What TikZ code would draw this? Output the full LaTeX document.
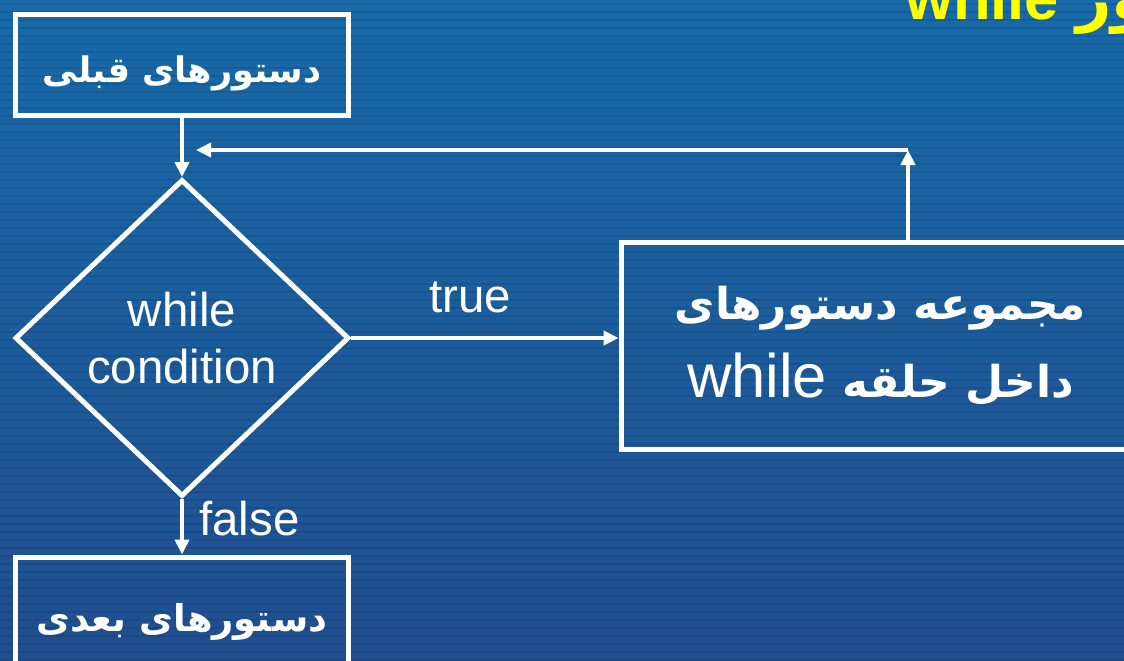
\documentclass[tikz,border=0pt]{standalone}
\usepackage{fontspec}
\setmainfont{Liberation Sans}
\newfontfamily\arb[Script=Arabic]{DejaVu Sans}
\TeXXeTstate=1
\usetikzlibrary{shapes.geometric,arrows.meta}

\definecolor{bgtop}{RGB}{24,106,168}
\definecolor{bgbot}{RGB}{32,78,142}
\definecolor{stripe}{RGB}{10,40,90}
\definecolor{titleyellow}{RGB}{255,255,0}

\begin{document}
\begin{tikzpicture}[x=0.02cm,y=-0.02cm,
  frame/.style={draw=white, line width=0.1cm, rectangle, inner sep=0pt},
  decision/.style={draw=white, line width=0.1cm, diamond, inner sep=0pt},
  flow/.style={draw=white, line width=0.08cm, -{Triangle[length=0.3cm,width=0.28cm]}},
  lbl/.style={text=white, font=\fontsize{27}{32.5}\selectfont, inner sep=0pt},
  fa/.style={text=white, font=\arb\bfseries},
]
% canvas and striped blue background
\clip (0,0) rectangle (1124,660);
\shade[top color=bgtop, bottom color=bgbot] (0,0) rectangle (1124,660);
\foreach \yy in {4,12,...,660}
  \draw[stripe, opacity=0.18, line width=0.04cm] (0,\yy) -- (1124,\yy);

% title
\node[anchor=base west, inner sep=0pt, text=titleyellow,
      font=\bfseries\fontsize{35}{40}\selectfont] (title) at (905,19)
  {\beginR{\arb دستور} \beginL while\endL\endR};

% flowchart blocks
\node[frame, fa, minimum width=6.66cm, minimum height=2.04cm] (prev) at (182,65)
  {\fontsize{20}{24}\selectfont\raisebox{-5pt}[\height][\depth]{\beginR دستورهای قبلی\endR}};
\node[decision, lbl, align=center, minimum width=6.68cm, minimum height=6.34cm] (cond) at (182,338)
  {while\\condition};
\node[frame, fa, align=center, minimum width=10.38cm, minimum height=4.16cm] (body) at (880.5,346)
  {\fontsize{25}{30}\selectfont\beginR مجموعه دستورهای\endR\\[12pt]
   \fontsize{25}{30}\selectfont\beginR داخل حلقه {\mdseries\fontspec{Liberation Sans}\fontsize{35}{40}\selectfont\beginL while\endL}\endR};
\node[frame, fa, minimum width=6.66cm, minimum height=2.6cm] (next) at (182,622)
  {\fontsize{21}{25}\selectfont\beginR دستورهای بعدی\endR};

% branch labels
\node[lbl, anchor=base west] (truelbl) at (429,312) {true};
\node[lbl, anchor=base west] (falselbl) at (199,535) {false};

% connectors
\coordinate (loopup) at (908,150);
\coordinate (loopend) at (196,150);
\draw[flow] (prev.south) -- (cond.north);
\draw[flow] (cond.east) -- (cond.east -| body.west);
\draw[flow] (cond.south) -- (next.north);
\draw[flow] (loopup |- body.north) -- (loopup);
\draw[flow] (loopup) -- (loopend);
\end{tikzpicture}
\end{document}
